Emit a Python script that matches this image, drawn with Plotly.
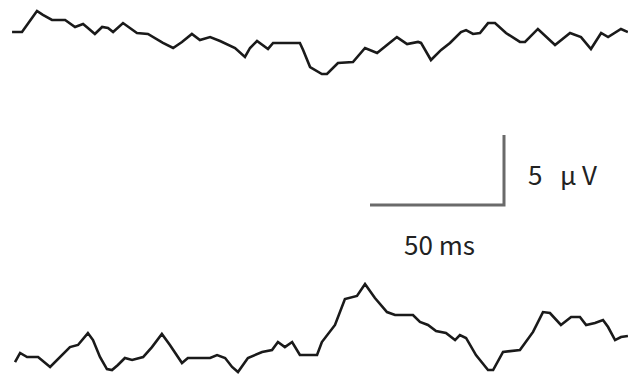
import plotly.graph_objects as go

# ---- data (time in ms, amplitude in microvolts, relative to each trace's baseline) ----
top_time_ms = [4.5, 8.2, 13.8, 16.0, 19.4, 24.3, 28.0, 31.0, 32.8, 35.4, 38.1, 40.3, 42.2, 45.9,
               51.1, 55.2, 60.8, 64.6, 67.9, 71.6, 74.6, 78.4, 82.1, 87.7, 91.4, 93.3, 95.9, 100.0,
               101.9, 111.9, 113.1, 115.7, 120.1, 122.0, 126.1, 131.7, 136.2, 140.7, 144.4, 148.1,
               151.9, 156.0, 157.1, 160.8, 164.6, 167.9, 172.0, 173.9, 176.5, 179.1, 182.1, 184.7,
               188.8, 194.0, 195.9, 200.7, 207.1, 212.7, 216.8, 220.5, 224.3, 226.9, 231.7, 234.3]
top_uv = [0.57, 0.57, 2.07, 1.79, 1.43, 1.43, 0.93, 1.14, 0.86, 0.43, 0.93, 0.86, 0.57, 1.21,
          0.50, 0.43, -0.21, -0.57, -0.14, 0.43, 0.00, 0.21, -0.07, -0.57, -1.21, -0.57, -0.07, -0.64,
          -0.21, -0.21, -0.71, -1.93, -2.43, -2.43, -1.64, -1.57, -0.57, -0.93, -0.36, 0.21,
          -0.29, -0.14, -0.21, -1.43, -0.71, -0.21, 0.57, 0.71, 0.43, 0.50, 1.21, 1.21,
          0.50, -0.14, -0.14, 0.79, -0.36, 0.50, 0.21, -0.64, 0.50, 0.21, 0.79, 0.57]

bottom_time_ms = [5.6, 7.5, 10.1, 14.2, 18.7, 23.1, 26.1, 29.1, 32.8, 34.7, 37.3, 39.9, 41.8, 44.0,
                  46.6, 49.3, 53.4, 56.7, 60.4, 63.4, 67.9, 70.1, 78.4, 81.0, 84.0, 86.6, 88.8, 92.5,
                  97.8, 101.5, 103.7, 106.3, 109.0, 111.9, 118.3, 120.1, 125.0, 128.7, 133.2, 136.2,
                  139.9, 144.4, 147.4, 154.1, 156.7, 159.7, 162.7, 166.4, 169.8, 171.6, 173.9, 177.6,
                  182.1, 184.0, 187.7, 194.0, 198.9, 202.6, 205.2, 209.3, 213.1, 216.4, 218.7, 222.0,
                  225.0, 226.9, 229.5, 231.7, 234.3]
bottom_uv = [-0.86, -0.21, -0.50, -0.50, -1.21, -0.36, 0.21, 0.36, 1.21, 0.71, -0.50, -1.36, -1.43, -1.07,
             -0.57, -0.71, -0.50, 0.21, 1.14, 0.36, -0.93, -0.57, -0.57, -0.36, -0.57, -1.21, -1.57, -0.57,
             -0.14, 0.00, 0.57, 0.21, 0.57, -0.36, -0.36, 0.57, 1.79, 3.64, 3.86, 4.71,
             3.71, 2.71, 2.50, 2.50, 2.00, 1.79, 1.36, 1.21, 0.71, 1.07, 0.86, -0.36,
             -1.43, -1.43, -0.14, 0.00, 1.29, 2.71, 2.64, 1.79, 2.36, 2.36, 1.79, 1.93,
             2.14, 1.64, 0.71, 0.93, 1.00]

scale_time_ms = 50
scale_amp_uv = 5
scale_time_label = "50 ms"
scale_amp_label = "5\u00a0\u00a0\u00a0μ\u00a0V"

# ---- layout constants ----
W, H = 628, 374
PX_PER_MS = 2.68
PX_PER_UV = 14.0
X_MAX = W / PX_PER_MS
Y_MAX = H / PX_PER_UV
TOP_BASE = (H - 40) / PX_PER_UV
BOTTOM_BASE = (H - 350) / PX_PER_UV
BAR_T0 = 370 / PX_PER_MS
BAR_Y0 = (H - 205) / PX_PER_UV

trace_color = "#1a1a1a"
bar_color = "#6a6a6a"

fig = go.Figure()
fig.add_trace(go.Scatter(x=top_time_ms, y=[v + TOP_BASE for v in top_uv], mode="lines",
                         line=dict(color=trace_color, width=2.6), hoverinfo="skip"))
fig.add_trace(go.Scatter(x=bottom_time_ms, y=[v + BOTTOM_BASE for v in bottom_uv], mode="lines",
                         line=dict(color=trace_color, width=2.6), hoverinfo="skip"))
fig.add_trace(go.Scatter(x=[BAR_T0, BAR_T0 + scale_time_ms, BAR_T0 + scale_time_ms],
                         y=[BAR_Y0, BAR_Y0, BAR_Y0 + scale_amp_uv], mode="lines",
                         line=dict(color=bar_color, width=3), hoverinfo="skip"))

font = dict(family="Noto Sans CJK JP", size=26, color="#222222")
fig.add_annotation(x=BAR_T0 + scale_time_ms / 2 + 1.0, y=(H - 243) / PX_PER_UV, text=scale_time_label,
                   showarrow=False, xanchor="center", yanchor="middle", font=font)
fig.add_annotation(x=526 / PX_PER_MS, y=(H - 173) / PX_PER_UV, text=scale_amp_label,
                   showarrow=False, xanchor="left", yanchor="middle", font=font)

fig.update_layout(width=W, height=H, margin=dict(l=0, r=0, t=0, b=0),
                  paper_bgcolor="white", plot_bgcolor="white", showlegend=False)
fig.update_xaxes(range=[0, X_MAX], visible=False, fixedrange=True)
fig.update_yaxes(range=[0, Y_MAX], visible=False, fixedrange=True)

fig.write_html("out.html", config={"displayModeBar": False},
               post_script="document.body.style.margin='0px';document.body.style.overflow='hidden';")
